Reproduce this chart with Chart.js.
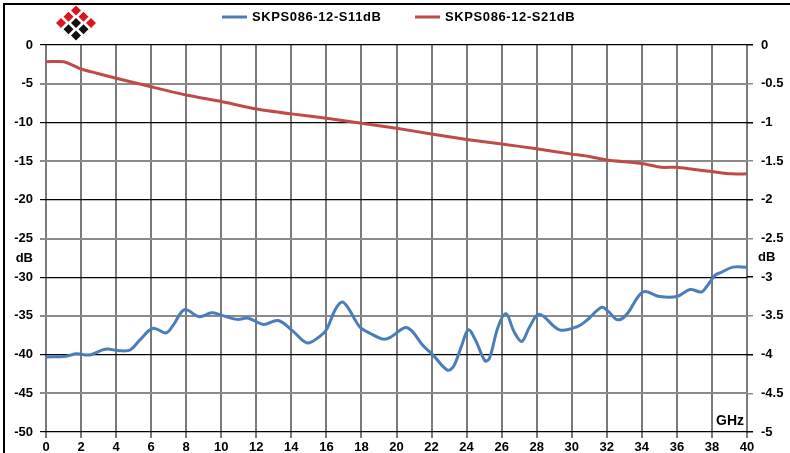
<!DOCTYPE html>
<html>
<head>
<meta charset="utf-8">
<script src="https://cdn.jsdelivr.net/npm/chart.js@4/dist/chart.umd.min.js"></script>
<style>
    html, body { margin: 0; padding: 0; background: #fff; }
    canvas { display: block; }
</style>
</head>
<body>
<canvas id="myChart" width="790" height="453"></canvas>
<script>
// S11 (left axis, dB)
const s11Freq = [0, 1.15, 1.75, 2.5, 3.37, 4.2, 4.8, 5.36, 6.1, 6.85, 7.26, 7.9, 8.75, 9.45, 10, 10.9, 11.55, 12.4, 13.25, 14.1,
    14.9, 15.6, 16, 16.5, 16.9, 17.25, 17.9, 18.5, 19.25, 19.7, 20.5, 20.9, 21.5, 22.1, 22.9, 23.25, 23.7, 24.1, 24.5, 25.05,
    25.3, 25.8, 26.25, 26.7, 27.15, 27.6, 28.15, 29.3, 30.3, 30.9, 31.7, 32.1, 32.6, 33.1, 34.07, 35, 36, 36.75, 37.4, 37.7,
    38.2, 38.5, 39.2, 40];
const s11 = [-40.3, -40.2, -39.9, -40.05, -39.3, -39.5, -39.4, -38.1, -36.6, -37.2, -36.2, -34.2, -35.1, -34.6, -34.9, -35.45, -35.3, -36.1, -35.6, -37.0,
    -38.5, -37.7, -36.8, -34.2, -33.2, -34.0, -36.4, -37.25, -38.0, -37.7, -36.5, -37.0, -38.8, -40.1, -42.0, -41.55, -38.95, -36.8, -38.1, -40.8,
    -40.5, -36.4, -34.7, -37.0, -38.3, -36.4, -34.8, -36.8, -36.4, -35.5, -33.9, -34.45, -35.5, -34.9, -31.9, -32.5, -32.5, -31.6, -31.9, -31.2,
    -29.7, -29.4, -28.7, -28.7];

// S21 (right axis, dB)
const s21Freq = [0, 1.03, 2, 2.9, 4, 6, 8, 10, 12, 14, 16, 18, 20, 22, 24, 26, 28, 30, 31, 32, 34, 35.1, 36, 36.9, 38, 39.1, 40];
const s21 = [-0.216, -0.216, -0.31, -0.365, -0.43, -0.54, -0.646, -0.73, -0.826, -0.89, -0.947, -1.01, -1.076, -1.15, -1.22, -1.28,
    -1.34, -1.41, -1.44, -1.485, -1.53, -1.58, -1.58, -1.605, -1.635, -1.665, -1.665];

const seriesLabels = ['SKPS086-12-S11dB', 'SKPS086-12-S21dB'];
const seriesColors = ['#4A7EBB', '#BE4B48'];

const freqMin = 0, freqMax = 40, freqStep = 2;
const leftMin = -50, leftMax = 0, leftStep = 5;
const rightMin = -5, rightMax = 0, rightStep = 0.5;
const axisUnit = 'dB';
const freqUnit = 'GHz';

const FONT = "'Liberation Sans', Arial, sans-serif";

function gridColor(ctx) {
    const v = ctx.tick ? ctx.tick.value : 0;
    return v % 10 === 0 ? '#000' : '#8a8a8a';
}
function gridWidth(ctx) {
    const v = ctx.tick ? ctx.tick.value : 0;
    return v % 10 === 0 ? 1.2 : 2;
}
function rightTickColor(ctx) {
    const v = ctx.tick ? Math.round(ctx.tick.value * 10) : 0;
    return v % 10 === 0 ? '#000' : '#8a8a8a';
}

// frame, logo, legend and unit labels
const decorPlugin = {
    id: 'decor',
    afterDraw(chart) {
        const ctx = chart.ctx;
        const area = chart.chartArea;
        ctx.save();

        // outer frame (left + top)
        ctx.strokeStyle = '#000';
        ctx.lineWidth = 2;
        ctx.beginPath();
        ctx.moveTo(4, chart.height);
        ctx.lineTo(4, 4);
        ctx.lineTo(chart.width, 4);
        ctx.stroke();

        // logo: 3x3 grid turned 45 degrees
        const cx = 76, cy = 23, dx = 7.5, dy = 6.2, r = 5;
        for (let i = 0; i < 3; i++) {
            for (let j = 0; j < 3; j++) {
                const px = cx + (j - i) * dx;
                const py = cy + (i + j - 2) * dy;
                ctx.fillStyle = (i === 0 || j === 0) ? '#E0141E' : '#111';
                ctx.beginPath();
                ctx.moveTo(px, py - r);
                ctx.lineTo(px + r, py);
                ctx.lineTo(px, py + r);
                ctx.lineTo(px - r, py);
                ctx.closePath();
                ctx.fill();
            }
        }

        // legend
        ctx.font = 'bold 13px ' + FONT;
        ctx.textBaseline = 'middle';
        ctx.textAlign = 'left';
        try { ctx.letterSpacing = '0.6px'; } catch (e) {}
        const legendX = [222, 415];
        chart.data.datasets.forEach((ds, i) => {
            const x = legendX[i];
            ctx.strokeStyle = ds.borderColor;
            ctx.lineWidth = 3;
            ctx.beginPath();
            ctx.moveTo(x, 17);
            ctx.lineTo(x + 25, 17);
            ctx.stroke();
            ctx.fillStyle = '#000';
            ctx.fillText(ds.label, x + 30, 17);
        });
        try { ctx.letterSpacing = '0px'; } catch (e) {}

        // unit labels
        ctx.font = 'bold 13px ' + FONT;
        ctx.fillStyle = '#000';
        ctx.textAlign = 'right';
        ctx.fillText(axisUnit, 33, 258);
        ctx.textAlign = 'left';
        ctx.fillText(axisUnit, 758, 257);
        ctx.font = 'bold 14px ' + FONT;
        ctx.textAlign = 'center';
        ctx.fillText(freqUnit, 730, 421);
        ctx.restore();
    }
};

const ctx = document.getElementById('myChart').getContext('2d');
new Chart(ctx, {
    type: 'line',
    data: {
        datasets: [
            {
                label: seriesLabels[0],
                data: s11Freq.map((f, i) => ({x: f, y: s11[i]})),
                borderColor: seriesColors[0],
                borderWidth: 3,
                pointRadius: 0,
                tension: 0.35,
                yAxisID: 'y'
            },
            {
                label: seriesLabels[1],
                data: s21Freq.map((f, i) => ({x: f, y: s21[i]})),
                borderColor: seriesColors[1],
                borderWidth: 3,
                pointRadius: 0,
                tension: 0.2,
                yAxisID: 'y1'
            }
        ]
    },
    options: {
        responsive: false,
        animation: false,
        devicePixelRatio: 1,
        layout: {padding: {top: 45, left: 0, right: 0, bottom: 0}},
        plugins: {
            legend: {display: false},
            tooltip: {enabled: false}
        },
        scales: {
            x: {
                type: 'linear',
                min: freqMin,
                max: freqMax,
                ticks: {
                    stepSize: freqStep,
                    color: '#000',
                    padding: 2,
                    maxRotation: 0,
                    font: {family: FONT, size: 13, weight: 'bold'}
                },
                grid: {color: '#7a7a7a', lineWidth: 2, tickLength: 6},
                border: {display: false},
                afterFit: s => { s.height = 21; }
            },
            y: {
                type: 'linear',
                position: 'left',
                min: leftMin,
                max: leftMax,
                ticks: {
                    stepSize: leftStep,
                    color: '#000',
                    padding: 7,
                    callback: v => String(v),
                    font: {family: FONT, size: 13, weight: 'bold'}
                },
                grid: {color: gridColor, lineWidth: gridWidth, tickLength: 6},
                border: {display: false},
                afterFit: s => { s.width = 46; }
            },
            y1: {
                type: 'linear',
                position: 'right',
                min: rightMin,
                max: rightMax,
                ticks: {
                    stepSize: rightStep,
                    color: '#000',
                    padding: 8,
                    callback: v => String(v),
                    font: {family: FONT, size: 13, weight: 'bold'}
                },
                grid: {drawOnChartArea: false, color: rightTickColor, lineWidth: 1.5, tickLength: 6},
                border: {display: false},
                afterFit: s => { s.width = 43; }
            }
        }
    },
    plugins: [decorPlugin]
});
</script>
</body>
</html>
